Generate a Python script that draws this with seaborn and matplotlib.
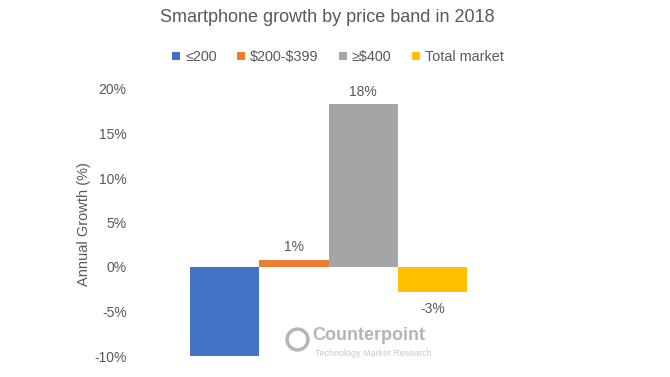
import matplotlib
matplotlib.use("Agg")
import matplotlib.pyplot as plt
import seaborn as sns
import pandas as pd
from matplotlib.patches import Patch
from matplotlib.lines import Line2D

categories = ["≤200", "$200-$399", "≥$400", "Total market"]
values = [-10.0, 0.8, 18.3, -2.8]
value_labels = ["", "1%", "18%", "-3%"]
colors = ["#4472C4", "#ED7D31", "#A5A5A5", "#FFC000"]
yticks = [-10, -5, 0, 5, 10, 15, 20]
title = "Smartphone growth by price band in 2018"
ylabel = "Annual Growth (%)"

sns.set_theme(style="white")
plt.rcParams["font.family"] = ["Liberation Sans", "DejaVu Sans"]
plt.rcParams["text.parse_math"] = False
TXT = "#595959"

df = pd.DataFrame({"band": categories, "growth": values})

W, H = 670, 377
fig = plt.figure(figsize=(W / 100, H / 100), dpi=100)
ax = fig.add_axes([135 / W, (H - 356) / H, (522 - 135) / W, (356 - 89) / H])

sns.barplot(data=df, x="band", y="growth", hue="band", palette=colors,
            order=categories, hue_order=categories, width=1.0, dodge=False,
            legend=False, ax=ax, saturation=1, linewidth=0, edgecolor="none")

ax.set_ylim(-10, 20)
ax.set_xlim(1.5 - 2.794, 1.5 + 2.794)
ax.set_yticks(yticks)
ax.set_yticklabels([f"{t}%" for t in yticks], color=TXT, fontsize=10)
ax.set_xticks([])
ax.set_xlabel("")
ax.set_ylabel(ylabel, color=TXT, fontsize=10.5)
ax.yaxis.set_label_coords(-0.113, 0.496)
ax.tick_params(axis="y", length=0, pad=6)
for s in ax.spines.values():
    s.set_visible(False)

for i, (v, lab) in enumerate(zip(values, value_labels)):
    if not lab:
        continue
    if v >= 0:
        ax.annotate(lab, (i, v), xytext=(0, 4), textcoords="offset points",
                    ha="center", va="bottom", color=TXT, fontsize=10)
    else:
        ax.annotate(lab, (i, v), xytext=(0, -7), textcoords="offset points",
                    ha="center", va="top", color=TXT, fontsize=10)

fig.text(327 / W, 1 - 18 / H, title, ha="center", va="center", color=TXT, fontsize=13)

handles = [Patch(facecolor=c, edgecolor="none") for c in colors]
fig.legend(handles, categories, loc="center", bbox_to_anchor=(338 / W, 1 - 57 / H),
           ncol=4, frameon=False, fontsize=10.4, handlelength=0.55, handleheight=0.55,
           handletextpad=0.35, columnspacing=1.4, labelcolor=TXT)

# watermark
wm = "#b5b5b5"
fig.add_artist(Line2D([297 / W], [1 - 339 / H], marker="o", markersize=15,
                      mfc="none", mec=wm, mew=2.5, transform=fig.transFigure))
fig.text(312 / W, 1 - 336 / H, "Counterpoint", ha="left", va="center",
         color=wm, fontsize=13, fontweight="bold")
fig.text(315 / W, 1 - 353 / H, "Technology Market Research", ha="left", va="center",
         color="#c8c8c8", fontsize=6.5)

fig.savefig("out.png", dpi=100)
